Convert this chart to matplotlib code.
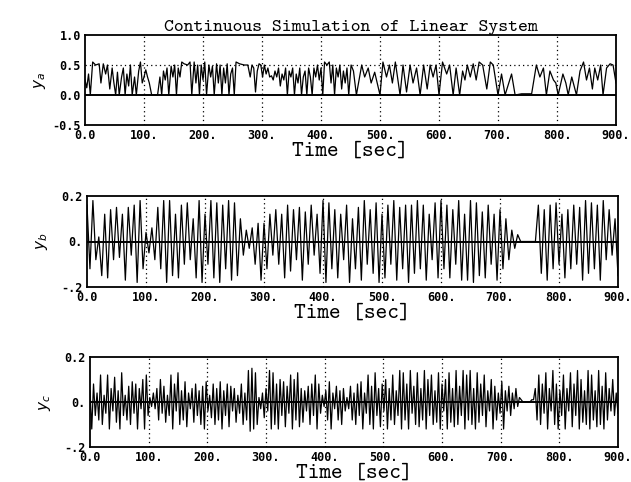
import matplotlib
matplotlib.use('Agg')
import matplotlib.pyplot as plt
import numpy as np

# --- data ---
# top trace: vertices (time [sec], value)
t_top = [0, 3, 6, 9, 13, 18, 24, 27, 31, 35, 38, 42, 46, 49, 52, 55, 58, 62, 65, 68,
         71, 74, 77, 80, 84, 87, 91, 94, 97, 100, 103, 106, 109, 113, 118, 123, 127, 130, 133, 136,
         139, 142, 146, 149, 152, 155, 158, 161, 164, 168, 174, 178, 181, 185, 188, 191, 194, 197, 200, 203,
         206, 210, 213, 216, 219, 223, 226, 229, 232, 235, 238, 241, 244, 247, 250, 253, 256, 262, 270, 276,
         280, 283, 286, 289, 292, 295, 298, 301, 304, 307, 310, 313, 316, 319, 322, 325, 328, 331, 334, 337,
         340, 343, 346, 349, 352, 355, 358, 361, 364, 367, 370, 373, 376, 379, 382, 385, 388, 391, 394, 397,
         400, 403, 406, 410, 414, 417, 420, 423, 426, 429, 432, 435, 438, 441, 444, 447, 451, 455, 460, 469,
         474, 480, 485, 491, 500, 505, 511, 516, 521, 526, 534, 539, 545, 551, 556, 562, 568, 574, 580, 585,
         590, 595, 600, 606, 613, 618, 624, 629, 635, 640, 644, 648, 653, 658, 663, 668, 674, 681, 687, 692,
         700, 706, 712, 723, 729, 740, 750, 757, 765, 771, 777, 782, 788, 794, 798, 802, 810, 815, 819, 825,
         833, 839, 845, 850, 855, 860, 864, 869, 874, 878, 884, 890, 895, 900]
y_top = [0.25, 0.12, 0.35, 0.00, 0.55, 0.50, 0.52, 0.20, 0.52, 0.35, 0.50, 0.10, 0.45, 0.20, 0.00, 0.38, 0.00, 0.30, 0.45, 0.00,
         0.35, 0.15, 0.50, 0.00, 0.30, 0.00, 0.40, 0.55, 0.20, 0.30, 0.42, 0.30, 0.20, 0.00, 0.00, 0.00, 0.30, 0.00, 0.40, 0.25,
         0.45, 0.00, 0.48, 0.30, 0.50, 0.00, 0.45, 0.30, 0.55, 0.52, 0.50, 0.55, 0.00, 0.55, 0.20, 0.50, 0.00, 0.50, 0.25, 0.55,
         0.00, 0.50, 0.30, 0.48, 0.00, 0.52, 0.20, 0.50, 0.00, 0.45, 0.20, 0.52, 0.00, 0.35, 0.45, 0.00, 0.55, 0.52, 0.50, 0.50,
         0.30, 0.50, 0.45, 0.05, 0.40, 0.52, 0.50, 0.30, 0.50, 0.35, 0.45, 0.30, 0.32, 0.25, 0.40, 0.30, 0.45, 0.15, 0.35, 0.25,
         0.45, 0.00, 0.40, 0.30, 0.45, 0.00, 0.35, 0.20, 0.45, 0.00, 0.30, 0.40, 0.00, 0.45, 0.30, 0.00, 0.45, 0.30, 0.50, 0.25,
         0.45, 0.00, 0.55, 0.50, 0.55, 0.20, 0.50, 0.00, 0.45, 0.30, 0.50, 0.10, 0.40, 0.20, 0.45, 0.00, 0.50, 0.40, 0.00, 0.50,
         0.30, 0.45, 0.20, 0.38, 0.00, 0.55, 0.30, 0.50, 0.20, 0.55, 0.00, 0.50, 0.05, 0.50, 0.20, 0.45, 0.00, 0.50, 0.10, 0.50,
         0.30, 0.50, 0.00, 0.55, 0.35, 0.50, 0.00, 0.45, 0.00, 0.40, 0.25, 0.50, 0.30, 0.52, 0.25, 0.55, 0.50, 0.10, 0.55, 0.50,
         0.00, 0.35, 0.00, 0.35, 0.00, 0.02, 0.02, 0.02, 0.50, 0.30, 0.45, 0.00, 0.40, 0.25, 0.20, 0.00, 0.35, 0.20, 0.00, 0.30,
         0.00, 0.40, 0.55, 0.25, 0.45, 0.10, 0.45, 0.25, 0.50, 0.00, 0.45, 0.52, 0.50, 0.20]

# middle trace: one reading every 5 sec
t_mid = np.arange(0, 901, 5)
y_mid = [0.16, -0.12, 0.18, -0.08, 0.02, -0.15, 0.12, -0.16, 0.14, -0.08,
         0.15, -0.07, 0.12, -0.17, 0.15, -0.06, 0.16, -0.18, 0.18, -0.12,
         0.04, -0.05, 0.06, -0.08, 0.15, -0.12, 0.18, -0.18, 0.18, -0.15,
         0.12, -0.16, 0.16, -0.10, 0.17, -0.08, 0.10, -0.16, 0.18, -0.18,
         0.12, -0.10, 0.18, -0.16, 0.17, -0.18, 0.16, -0.12, 0.18, -0.17,
         0.17, -0.15, 0.10, -0.06, 0.05, -0.03, 0.06, -0.10, 0.08, -0.17,
         0.08, -0.12, 0.12, -0.06, 0.14, -0.10, 0.12, -0.16, 0.16, -0.13,
         0.14, -0.08, 0.15, -0.17, 0.13, -0.10, 0.16, -0.06, 0.12, -0.14,
         0.18, -0.18, 0.17, -0.12, 0.14, -0.16, 0.12, -0.08, 0.16, -0.18,
         0.10, -0.12, 0.15, -0.17, 0.18, -0.10, 0.14, -0.14, 0.17, -0.18,
         0.12, -0.16, 0.16, -0.10, 0.18, -0.17, 0.15, -0.12, 0.16, -0.18,
         0.16, -0.14, 0.18, -0.12, 0.16, -0.17, 0.12, -0.08, 0.17, -0.16,
         0.18, -0.12, 0.16, -0.16, 0.14, -0.10, 0.18, -0.17, 0.12, -0.17,
         0.18, -0.18, 0.17, -0.15, 0.13, -0.16, 0.16, -0.10, 0.12, -0.17,
         0.14, -0.12, 0.10, -0.08, 0.05, -0.03, 0.03, 0.00, 0.00, 0.00,
         0.00, 0.00, 0.00, 0.16, -0.14, 0.14, -0.17, 0.16, -0.12, 0.17,
         -0.10, 0.12, -0.16, 0.14, -0.12, 0.16, -0.10, 0.15, -0.17, 0.18,
         -0.14, 0.17, -0.12, 0.16, -0.17, 0.18, -0.08, 0.14, -0.06, 0.10,
         -0.15]

# bottom trace: one reading every 3 sec
t_bot = np.arange(0, 901, 3)
y_bot = [0.05, -0.12, 0.08, -0.06, 0.04, -0.08, 0.12, -0.10, 0.03, -0.05,
         0.12, -0.12, 0.06, -0.04, 0.11, -0.09, 0.05, -0.12, 0.13, -0.06,
         0.03, -0.08, 0.07, -0.10, 0.09, -0.05, 0.08, -0.12, 0.06, -0.03,
         0.10, -0.12, 0.12, -0.06, 0.02, -0.02, 0.04, -0.03, 0.06, -0.08,
         0.10, -0.05, 0.07, -0.09, 0.03, -0.06, 0.12, -0.12, 0.08, -0.04,
         0.13, -0.10, 0.05, -0.08, 0.09, -0.11, 0.04, -0.03, 0.06, -0.09,
         0.08, -0.06, 0.05, -0.10, 0.07, -0.12, 0.09, -0.04, 0.03, -0.07,
         0.08, -0.10, 0.06, -0.08, 0.09, -0.12, 0.05, -0.06, 0.08, -0.11,
         0.07, -0.04, 0.06, -0.09, 0.03, -0.05, 0.08, -0.10, 0.04, -0.08,
         0.14, -0.13, 0.15, -0.12, 0.13, -0.10, 0.02, -0.03, 0.04, -0.07,
         0.06, -0.04, 0.14, -0.12, 0.13, -0.10, 0.08, -0.12, 0.10, -0.06,
         0.09, -0.11, 0.07, -0.05, 0.12, -0.12, 0.10, -0.08, 0.13, -0.11,
         0.06, -0.09, 0.05, -0.04, 0.07, -0.10, 0.08, -0.06, 0.12, -0.12,
         0.08, -0.05, 0.03, -0.02, 0.05, -0.08, 0.09, -0.12, 0.04, -0.03,
         0.07, -0.08, 0.05, -0.10, 0.06, -0.04, 0.02, -0.03, 0.07, -0.08,
         0.04, -0.10, 0.08, -0.06, 0.09, -0.12, 0.04, -0.05, 0.12, -0.10,
         0.07, -0.12, 0.13, -0.06, 0.06, -0.11, 0.08, -0.04, 0.10, -0.12,
         0.06, -0.08, 0.12, -0.10, 0.05, -0.06, 0.14, -0.12, 0.13, -0.08,
         0.08, -0.12, 0.14, -0.05, 0.07, -0.10, 0.13, -0.11, 0.06, -0.08,
         0.14, -0.12, 0.10, -0.06, 0.12, -0.10, 0.05, -0.09, 0.13, -0.12,
         0.08, -0.04, 0.10, -0.12, 0.13, -0.09, 0.06, -0.11, 0.14, -0.10,
         0.07, -0.06, 0.14, -0.12, 0.12, -0.08, 0.14, -0.10, 0.06, -0.12,
         0.13, -0.09, 0.08, -0.06, 0.12, -0.11, 0.05, -0.04, 0.10, -0.12,
         0.07, -0.08, 0.04, -0.05, 0.09, -0.12, 0.05, -0.04, 0.07, -0.06,
         0.04, -0.03, 0.06, -0.02, 0.02, 0.01, 0.00, 0.00, 0.00, 0.00,
         0.00, 0.01, 0.01, 0.06, -0.08, 0.12, -0.10, 0.08, -0.05, 0.13,
         -0.12, 0.06, -0.04, 0.14, -0.10, 0.08, -0.12, 0.05, -0.06, 0.12,
         -0.12, 0.06, -0.04, 0.13, -0.11, 0.08, -0.06, 0.14, -0.12, 0.10,
         -0.09, 0.05, -0.10, 0.14, -0.12, 0.12, -0.08, 0.05, -0.11, 0.14,
         -0.10, 0.07, -0.12, 0.13, -0.08, 0.06, -0.04, 0.10, -0.06, 0.04,
         -0.05]

x_ticks = [0, 100, 200, 300, 400, 500, 600, 700, 800, 900]
x_labels = ['0.0', '100.', '200.', '300.', '400.', '500.', '600.', '700.', '800.', '900.']

panels = [
    # (t, y, ylim, yticks, ylabels, ylabel, axes rect)
    (t_top, y_top, (-0.5, 1.0), [-0.5, 0.0, 0.5, 1.0], ['-0.5', '0.0', '0.5', '1.0'],
     r'$y_a$', [85/631, 1 - 125/482, 531/631, 90/482]),
    (t_mid, y_mid, (-0.2, 0.2), [-0.2, 0.0, 0.2], ['-.2', '0.', '0.2'],
     r'$y_b$', [87/631, 1 - 287/482, 531/631, 91/482]),
    (t_bot, y_bot, (-0.2, 0.2), [-0.2, 0.0, 0.2], ['-.2', '0.', '0.2'],
     r'$y_c$', [90/631, 1 - 447/482, 528/631, 90/482]),
]

fig = plt.figure(figsize=(6.31, 4.82), dpi=100)
tt = 'cmtt10'  # typewriter font shipped with matplotlib

for i, (t, y, ylim, yt, yl, lab, rect) in enumerate(panels):
    ax = fig.add_axes(rect)
    ax.plot(t, y, color='black', lw=0.9)
    ax.axhline(0, color='black', lw=1.4)
    ax.set_xlim(0, 900)
    ax.set_ylim(*ylim)
    # dotted grid at the interior ticks
    for xv in x_ticks[1:-1]:
        ax.axvline(xv, color='black', lw=0.9, ls=(0, (1, 2.5)))
    for yv in yt[1:-1]:
        if yv != 0:
            ax.axhline(yv, color='black', lw=0.9, ls=(0, (1, 2.5)))
    ax.set_xticks(x_ticks)
    ax.set_xticklabels(x_labels, fontfamily='DejaVu Sans Mono', fontweight='bold', fontsize=8.5)
    ax.set_yticks(yt)
    ax.set_yticklabels(yl, fontfamily='DejaVu Sans Mono', fontweight='bold', fontsize=8.5)
    ax.tick_params(length=0, pad=3)
    for s in ax.spines.values():
        s.set_linewidth(1.3)
    ax.set_xlabel('Time [sec]', fontfamily=tt, fontsize=16, labelpad=0)
    ax.set_ylabel(lab, fontsize=11, rotation=90)
    ax.yaxis.set_label_coords(-0.07, 0.5)
    if i == 0:
        ax.set_title('Continuous Simulation of Linear System', fontfamily=tt,
                     fontsize=13.5, pad=3)

fig.savefig('out.png', dpi=100)
